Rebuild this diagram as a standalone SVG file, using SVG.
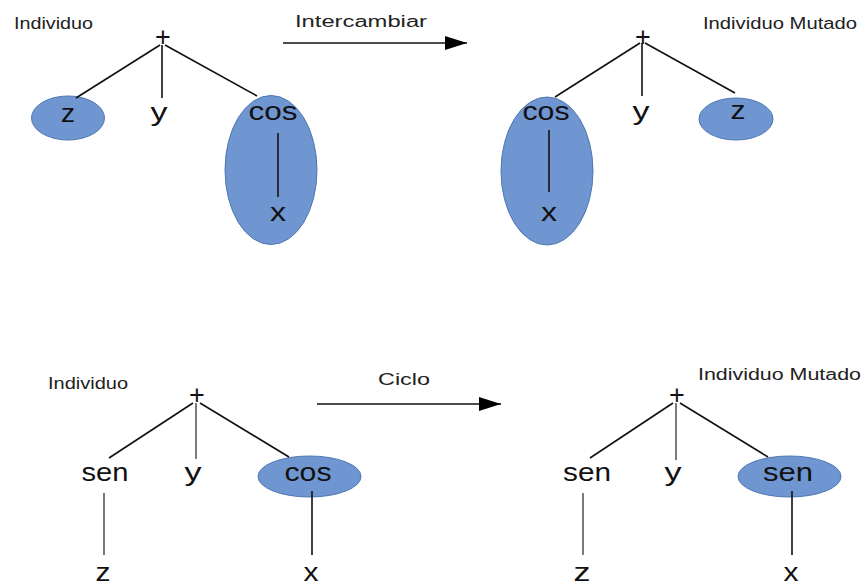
<svg xmlns="http://www.w3.org/2000/svg" width="864" height="585" viewBox="0 0 864 585">
<defs>
<style>
text{font-family:"Liberation Sans",Arial,sans-serif;fill:#111;text-anchor:middle}
.lbl{font-size:16px;text-anchor:start;fill:#222}
.big{font-size:25px}
.plus{font-size:27px}
.ell{fill:#6f96d0;stroke:#4f77b0;stroke-width:1}
.ln{stroke:#111;stroke-width:1.6;fill:none}
.ln2{stroke:#333;stroke-width:1.3;fill:none}
</style>
<marker id="ah" viewBox="0 0 22 14" refX="22" refY="7" markerWidth="22" markerHeight="14" markerUnits="userSpaceOnUse" orient="auto">
<path d="M0,0 L22,7 L0,14 Z" fill="#000"/>
</marker>
</defs>
<rect width="864" height="585" fill="#fff"/>

<g id="tree1">
<g id="t1-z"><ellipse class="ell" cx="68" cy="118" rx="36.5" ry="22"/><text class="big" x="68" y="122" textLength="14" lengthAdjust="spacingAndGlyphs">z</text></g>
<g id="t1-cos"><ellipse class="ell" cx="271" cy="170" rx="46" ry="74.5"/><text class="big" x="273" y="120" textLength="49" lengthAdjust="spacingAndGlyphs">cos</text></g>
<g id="t1-x"><text class="big" x="278" y="221" textLength="16" lengthAdjust="spacingAndGlyphs">x</text></g>
<g id="t1-plus"><text class="plus" x="163" y="46">+</text></g>
<g id="t1-y"><text class="big" x="159" y="121" textLength="17" lengthAdjust="spacingAndGlyphs">y</text></g>
</g>

<g id="tree2">
<g id="t2-cos"><ellipse class="ell" cx="547" cy="171" rx="46" ry="74"/><text class="big" x="546" y="120" textLength="47" lengthAdjust="spacingAndGlyphs">cos</text></g>
<g id="t2-x"><text class="big" x="549" y="221" textLength="16" lengthAdjust="spacingAndGlyphs">x</text></g>
<g id="t2-z"><ellipse class="ell" cx="736" cy="119" rx="37" ry="21"/><text class="big" x="738" y="119" textLength="15" lengthAdjust="spacingAndGlyphs">z</text></g>
<g id="t2-plus"><text class="plus" x="643" y="46">+</text></g>
<g id="t2-y"><text class="big" x="641" y="120" textLength="17" lengthAdjust="spacingAndGlyphs">y</text></g>
</g>

<g id="tree3">
<g id="t3-cos"><ellipse class="ell" cx="309.5" cy="476.5" rx="51.5" ry="20.5"/><text class="big" x="308" y="481" textLength="47" lengthAdjust="spacingAndGlyphs">cos</text></g>
<g id="t3-plus"><text class="plus" x="197" y="404">+</text></g>
<g id="t3-sen"><text class="big" x="105" y="481" textLength="47" lengthAdjust="spacingAndGlyphs">sen</text></g>
<g id="t3-y"><text class="big" x="193" y="481" textLength="17" lengthAdjust="spacingAndGlyphs">y</text></g>
<g id="t3-z"><text class="big" x="103" y="581" textLength="15" lengthAdjust="spacingAndGlyphs">z</text></g>
<g id="t3-x"><text class="big" x="311" y="581" textLength="15" lengthAdjust="spacingAndGlyphs">x</text></g>
</g>

<g id="tree4">
<g id="t4-sen2"><ellipse class="ell" cx="789.5" cy="476.5" rx="51.5" ry="20.5"/><text class="big" x="788" y="481" textLength="50" lengthAdjust="spacingAndGlyphs">sen</text></g>
<g id="t4-plus"><text class="plus" x="677" y="404">+</text></g>
<g id="t4-sen"><text class="big" x="587" y="481" textLength="48" lengthAdjust="spacingAndGlyphs">sen</text></g>
<g id="t4-y"><text class="big" x="673" y="481" textLength="17" lengthAdjust="spacingAndGlyphs">y</text></g>
<g id="t4-z"><text class="big" x="582" y="581" textLength="17" lengthAdjust="spacingAndGlyphs">z</text></g>
<g id="t4-x"><text class="big" x="791" y="581" textLength="15" lengthAdjust="spacingAndGlyphs">x</text></g>
</g>

<g id="connectors">
<line class="ln" x1="160" y1="45" x2="76" y2="98"/>
<line class="ln" x1="162" y1="45" x2="162" y2="98"/>
<line class="ln" x1="165" y1="45" x2="257" y2="96"/>
<line class="ln" x1="278" y1="133" x2="278" y2="197"/>
<line class="ln" x1="640" y1="43" x2="555" y2="97"/>
<line class="ln" x1="642" y1="43" x2="642" y2="96"/>
<line class="ln" x1="645" y1="43" x2="735" y2="93"/>
<line class="ln" x1="549" y1="130" x2="549" y2="192"/>
<line class="ln" x1="283" y1="43" x2="467" y2="43" marker-end="url(#ah)"/>
<line class="ln" x1="193" y1="403" x2="109" y2="458"/>
<line class="ln2" x1="196" y1="403" x2="196" y2="459"/>
<line class="ln" x1="200" y1="403" x2="289" y2="457"/>
<line class="ln2" x1="104" y1="493" x2="104" y2="555"/>
<line class="ln" x1="312" y1="491" x2="312" y2="555"/>
<line class="ln" x1="317" y1="404" x2="501" y2="404" marker-end="url(#ah)"/>
<line class="ln" x1="673" y1="403" x2="590" y2="458"/>
<line class="ln2" x1="676" y1="403" x2="676" y2="460"/>
<line class="ln" x1="680" y1="403" x2="768" y2="457"/>
<line class="ln2" x1="583" y1="493" x2="583" y2="555"/>
<line class="ln" x1="792" y1="491" x2="792" y2="555"/>
</g>

<g id="labels">
<text class="lbl" x="14" y="29" textLength="79" lengthAdjust="spacingAndGlyphs">Individuo</text>
<text class="lbl" x="295" y="27" font-size="17" textLength="132" lengthAdjust="spacingAndGlyphs">Intercambiar</text>
<text class="lbl" x="703" y="29" textLength="154" lengthAdjust="spacingAndGlyphs">Individuo Mutado</text>
<text class="lbl" x="48" y="389" textLength="80" lengthAdjust="spacingAndGlyphs">Individuo</text>
<text class="lbl" x="378" y="385" font-size="17" textLength="52" lengthAdjust="spacingAndGlyphs">Ciclo</text>
<text class="lbl" x="698" y="380" textLength="163" lengthAdjust="spacingAndGlyphs">Individuo Mutado</text>
</g>
</svg>
